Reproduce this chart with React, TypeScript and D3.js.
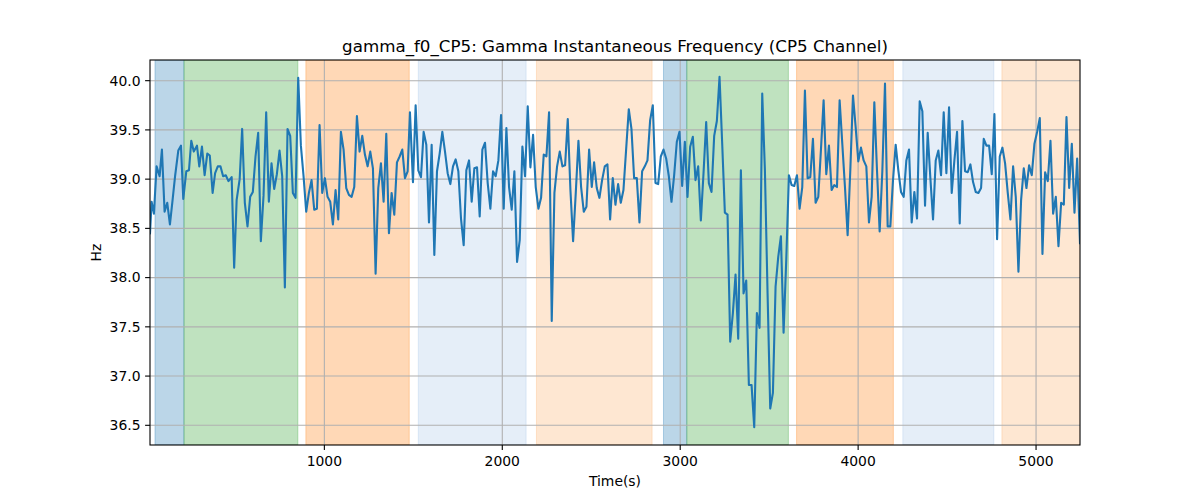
import React from "react";
import * as d3 from "d3";

const TITLE = "gamma_f0_CP5: Gamma Instantaneous Frequency (CP5 Channel)";
const X_LABEL = "Time(s)";
const Y_LABEL = "Hz";

const xTicks = [1000, 2000, 3000, 4000, 5000];
const yTicks = [36.5, 37.0, 37.5, 38.0, 38.5, 39.0, 39.5, 40.0];

const times = [
  20, 29, 42, 57, 74, 87, 102, 117, 132, 147, 161, 179, 194, 207, 224, 239, 252, 266, 284, 297,
  312, 327, 342, 356, 372, 386, 401, 416, 431, 446, 461, 470, 479, 493, 507, 524, 538, 553, 568, 583,
  598, 613, 628, 643, 658, 673, 688, 703, 718, 733, 748, 763, 778, 793, 808, 823, 838, 853, 868, 883,
  898, 913, 928, 943, 958, 973, 988, 1003, 1018, 1033, 1048, 1063, 1078, 1093, 1108, 1123, 1138, 1153, 1168, 1183,
  1198, 1213, 1228, 1243, 1258, 1273, 1288, 1303, 1318, 1333, 1348, 1363, 1378, 1393, 1408, 1423, 1438, 1453, 1468, 1481,
  1498, 1513, 1528, 1543, 1558, 1573, 1588, 1603, 1618, 1633, 1648, 1663, 1678, 1693, 1708, 1723, 1738, 1753, 1768, 1783,
  1798, 1813, 1828, 1843, 1858, 1873, 1888, 1903, 1918, 1933, 1948, 1963, 1978, 1993, 2008, 2023, 2038, 2053, 2068, 2083,
  2098, 2113, 2128, 2143, 2158, 2173, 2188, 2203, 2218, 2233, 2248, 2263, 2278, 2293, 2308, 2323, 2338, 2353, 2368, 2383,
  2398, 2413, 2428, 2443, 2458, 2473, 2488, 2503, 2516, 2531, 2546, 2561, 2576, 2591, 2606, 2621, 2636, 2651, 2666, 2681,
  2696, 2711, 2726, 2741, 2756, 2771, 2786, 2801, 2816, 2831, 2846, 2861, 2876, 2891, 2906, 2921, 2936, 2951, 2966, 2981,
  2996, 3011, 3026, 3041, 3056, 3071, 3086, 3101, 3116, 3131, 3146, 3161, 3176, 3191, 3206, 3221, 3236, 3251, 3266, 3281,
  3296, 3311, 3326, 3341, 3356, 3371, 3386, 3401, 3416, 3431, 3446, 3461, 3476, 3491, 3506, 3521, 3536, 3551, 3566, 3581,
  3596, 3611, 3626, 3641, 3656, 3671, 3686, 3701, 3716, 3731, 3746, 3761, 3776, 3791, 3806, 3821, 3836, 3851, 3866, 3881,
  3896, 3911, 3926, 3941, 3956, 3971, 3986, 4001, 4016, 4031, 4046, 4061, 4076, 4091, 4106, 4121, 4136, 4151, 4166, 4181,
  4196, 4211, 4226, 4241, 4256, 4271, 4286, 4301, 4316, 4331, 4346, 4361, 4376, 4391, 4406, 4421, 4436, 4451, 4466, 4481,
  4496, 4511, 4526, 4541, 4556, 4571, 4586, 4601, 4616, 4631, 4646, 4661, 4676, 4691, 4706, 4721, 4736, 4751, 4766, 4781,
  4796, 4811, 4826, 4841, 4856, 4871, 4886, 4901, 4916, 4931, 4946, 4961, 4976, 4991, 5006, 5021, 5036, 5051, 5066, 5081,
  5096, 5111, 5126, 5141, 5156, 5171, 5186, 5201, 5216, 5231, 5247,
];

const values = [
  38.45, 38.77, 38.65, 39.13, 39.03, 39.30, 38.67, 38.76, 38.54, 38.79, 39.03, 39.29, 39.34, 38.80, 39.08, 39.09, 39.39, 39.28, 39.34, 39.13,
  39.33, 39.04, 39.26, 39.24, 38.86, 39.06, 39.13, 39.13, 39.03, 39.04, 38.98, 39.00, 39.02, 38.10, 38.79, 39.00, 39.51, 38.76, 38.52, 38.82,
  38.87, 39.23, 39.47, 38.37, 38.83, 39.68, 38.77, 39.16, 38.90, 39.05, 39.29, 39.03, 37.90, 39.51, 39.44, 38.86, 38.81, 40.03, 39.34, 39.03,
  38.67, 38.86, 38.99, 38.69, 38.70, 39.55, 38.86, 39.01, 38.82, 38.77, 38.54, 38.89, 38.59, 39.48, 39.30, 38.91, 38.84, 38.82, 38.92, 39.64,
  39.28, 39.44, 39.25, 39.13, 39.28, 39.11, 38.04, 38.91, 39.16, 38.77, 39.46, 38.45, 38.86, 38.64, 39.17, 39.23, 39.30, 39.01, 39.08, 39.68,
  38.97, 39.75, 39.09, 39.02, 39.48, 39.35, 38.56, 39.35, 38.23, 39.08, 39.26, 39.48, 39.28, 39.06, 38.95, 39.13, 39.20, 39.08, 38.60, 38.33,
  39.09, 39.19, 38.77, 39.11, 39.12, 38.62, 39.30, 39.37, 38.96, 38.70, 39.08, 39.03, 39.19, 39.65, 38.70, 39.52, 38.92, 38.69, 39.08, 38.16,
  38.38, 39.33, 39.03, 39.74, 39.12, 39.45, 38.92, 38.70, 38.81, 39.25, 39.23, 39.68, 37.56, 38.86, 39.13, 39.28, 39.13, 39.14, 39.61, 38.89,
  38.37, 38.86, 39.39, 38.92, 38.67, 38.72, 39.30, 38.92, 39.17, 38.91, 38.81, 38.99, 39.13, 39.15, 38.59, 39.01, 38.74, 38.95, 38.76, 38.89,
  39.30, 39.71, 39.51, 39.01, 39.01, 38.56, 39.08, 39.13, 39.19, 39.60, 39.75, 38.96, 38.95, 39.23, 39.30, 39.21, 39.03, 38.77, 39.04, 39.38,
  39.48, 38.93, 39.38, 38.82, 39.33, 39.43, 38.99, 39.13, 38.58, 39.06, 39.58, 38.96, 38.87, 39.44, 39.59, 40.04, 39.36, 38.66, 38.64, 37.35,
  37.64, 38.03, 37.38, 39.09, 37.84, 37.97, 36.91, 36.91, 36.48, 37.64, 37.49, 39.87, 39.09, 37.84, 36.67, 36.83, 37.91, 38.21, 38.42, 37.44,
  38.18, 39.04, 38.94, 38.93, 39.04, 38.70, 38.92, 39.90, 39.01, 39.02, 39.41, 38.76, 38.82, 39.30, 39.80, 39.05, 39.34, 38.89, 38.94, 38.92,
  39.80, 39.36, 38.92, 38.43, 39.09, 39.85, 39.53, 39.18, 39.32, 39.19, 39.13, 38.56, 38.82, 39.78, 39.09, 38.47, 39.08, 39.97, 38.52, 38.52,
  38.99, 39.35, 39.09, 38.87, 38.82, 39.19, 39.30, 38.56, 38.87, 38.60, 39.79, 39.69, 38.73, 39.47, 39.01, 38.59, 39.19, 39.29, 39.04, 39.68,
  39.06, 39.73, 38.86, 39.19, 39.48, 38.55, 39.59, 39.08, 39.07, 39.15, 38.97, 38.87, 38.86, 38.91, 39.41, 39.34, 39.34, 39.05, 39.66, 38.39,
  39.23, 39.32, 39.16, 38.86, 38.59, 39.13, 38.82, 38.06, 38.79, 39.11, 38.91, 39.14, 39.04, 39.36, 39.48, 39.62, 38.24, 39.07, 38.98, 39.39,
  38.65, 38.82, 38.32, 38.76, 38.74, 39.63, 38.91, 39.36, 38.66, 39.21, 38.35,
];

// Shaded phases
const spanStarts = [48, 211, 896, 1528, 2192, 2906, 3037, 3654, 4251, 4808];
const spanEnds = [211, 851, 1477, 2134, 2842, 3037, 3608, 4198, 4763, 5300];
const spanKinds = ["blue", "green", "orange", "lightblue", "lightorange", "blue", "green", "orange", "lightblue", "lightorange"];

const kindStyle: Record<string, { color: string; alpha: number }> = {
  blue: { color: "#1f77b4", alpha: 0.3 },
  green: { color: "#2ca02c", alpha: 0.3 },
  orange: { color: "#ff7f0e", alpha: 0.3 },
  lightblue: { color: "#6f9fd8", alpha: 0.18 },
  lightorange: { color: "#fdae6b", alpha: 0.3 },
};

const W = 1200;
const H = 500;
const M = { left: 150, right: 1080, top: 60, bottom: 445 };

export default function App() {
  const x = d3.scaleLinear().domain([20, 5247]).range([M.left, M.right]);
  const y = d3.scaleLinear().domain([36.3, 40.21]).range([M.bottom, M.top]);
  const pts = times.map((t, i) => [t, values[i]] as [number, number]);
  const line = d3
    .line<[number, number]>()
    .x((d) => x(d[0]))
    .y((d) => y(d[1]));
  const font = "DejaVu Sans, sans-serif";
  const clipW = M.right - M.left;
  const clipH = M.bottom - M.top;

  return (
    <svg
      width={W}
      height={H}
      style={{ position: "absolute", left: 0, top: 0, background: "#fff" }}
      fontFamily={font}
    >
      <defs>
        <clipPath id="plotclip">
          <rect x={M.left} y={M.top} width={clipW} height={clipH} />
        </clipPath>
      </defs>
      <rect x={0} y={0} width={W} height={H} fill="#fff" />
      <g clipPath="url(#plotclip)">
        {spanStarts.map((s, i) => {
          const st = kindStyle[spanKinds[i]];
          const x0 = x(s);
          const x1 = x(spanEnds[i]);
          return (
            <rect
              key={"s" + i}
              x={x0}
              y={M.top}
              width={x1 - x0}
              height={clipH}
              fill={st.color}
              fillOpacity={st.alpha}
              stroke={st.color}
              strokeOpacity={st.alpha}
              strokeWidth={1}
            />
          );
        })}
        {xTicks.map((t) => (
          <line key={"gx" + t} x1={x(t)} x2={x(t)} y1={M.top} y2={M.bottom} stroke="#b0b0b0" strokeWidth={1.1} />
        ))}
        {yTicks.map((t) => (
          <line key={"gy" + t} x1={M.left} x2={M.right} y1={y(t)} y2={y(t)} stroke="#b0b0b0" strokeWidth={1.1} />
        ))}
        <path d={line(pts) || ""} fill="none" stroke="#1f77b4" strokeWidth={2.1} strokeLinejoin="round" strokeLinecap="square" />
      </g>
      <rect
        x={M.left}
        y={M.top}
        width={clipW}
        height={clipH}
        fill="none"
        stroke="#000"
        strokeWidth={1.1}
      />
      {xTicks.map((t) => (
        <g key={"xt" + t}>
          <line x1={x(t)} x2={x(t)} y1={M.bottom} y2={M.bottom + 4.9} stroke="#000" strokeWidth={1.1} />
          <text x={x(t)} y={M.bottom + 20.5} fontSize={13.9} textAnchor="middle" fill="#000">
            {t}
          </text>
        </g>
      ))}
      {yTicks.map((t) => (
        <g key={"yt" + t}>
          <line x1={M.left - 4.9} x2={M.left} y1={y(t)} y2={y(t)} stroke="#000" strokeWidth={1.1} />
          <text x={M.left - 9.5} y={y(t)} dy="0.35em" fontSize={13.9} textAnchor="end" fill="#000">
            {t.toFixed(1)}
          </text>
        </g>
      ))}
      <text x={(M.left + M.right) / 2} y={M.top - 8} fontSize={16.7} textAnchor="middle" fill="#000">
        {TITLE}
      </text>
      <text x={(M.left + M.right) / 2} y={486} fontSize={13.9} textAnchor="middle" fill="#000">
        {X_LABEL}
      </text>
      <text
        transform={`translate(${101},${(M.top + M.bottom) / 2}) rotate(-90)`}
        fontSize={13.9}
        textAnchor="middle"
        fill="#000"
      >
        {Y_LABEL}
      </text>
    </svg>
  );
}
